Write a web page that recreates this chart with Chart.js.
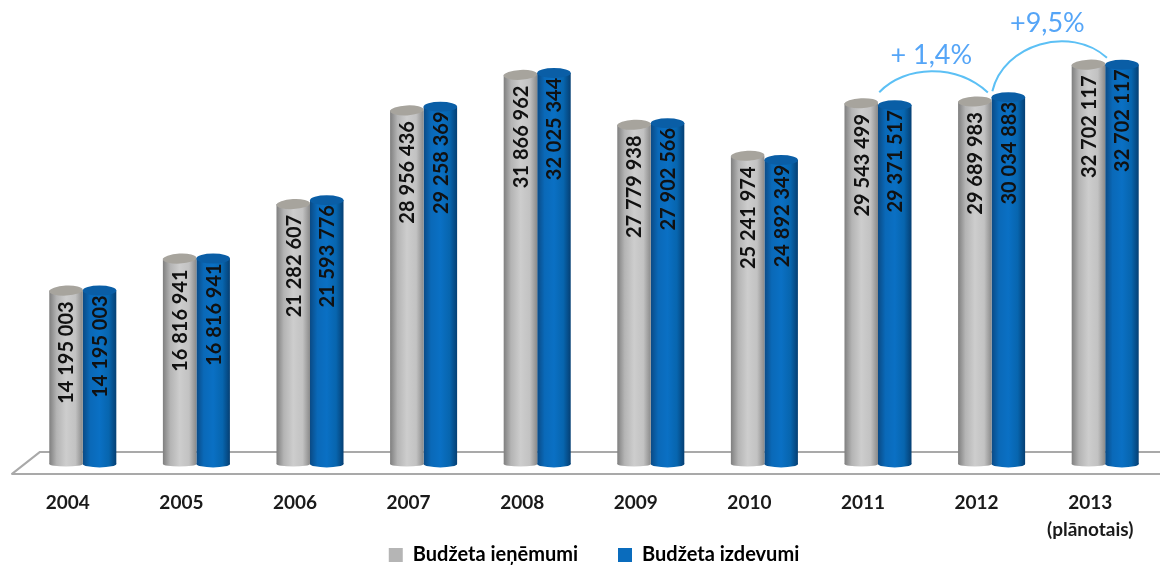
<!DOCTYPE html>
<html><head><meta charset="utf-8">
<style>html,body{margin:0;padding:0;background:#fff;overflow:hidden}#w{width:1160px;height:565px;overflow:hidden;position:relative}</style>
<script src="https://cdn.jsdelivr.net/npm/chart.js@4"></script>
</head><body><div id="w"><canvas id="c" width="1172" height="565" style="width:1172px;height:565px;display:block"></canvas></div>
<script>
const categories=['2004','2005','2006','2007','2008','2009','2010','2011','2012',['2013','(plānotais)']];
const revenue=[14195003,16816941,21282607,28956436,31866962,27779938,25241974,29543499,29689983,32702117];
const expenditure=[14195003,16816941,21593776,29258369,32025344,27902566,24892349,29371517,30034883,32702117];
const revenueName='Budžeta ieņēmumi';
const expenditureName='Budžeta izdevumi';
const notes=['+ 1,4%','+9,5%'];
const fmt=v=>String(v).replace(/\B(?=(\d{3})+$)/g,' ');
const FONT='Lato, sans-serif';
const grayStops=['#7f7f7f','#b4b4b4','#cdcdcd','#c2c2c2','#8a8a8a'];
const blueStops=['#0a4a85','#0a69b8','#0a70c4','#0765ae','#053f73'];
const PCT=0.59;
function grad(ctx,x0,x1,stops){
  const g=ctx.createLinearGradient(x0,0,x1,0);
  [0,.22,.5,.78,1].forEach((p,i)=>g.addColorStop(p,stops[i]));
  return g;
}
function fill(stops,side){
  return c=>{
    const sx=c.chart.scales.x;
    if(!sx||!sx.width||c.dataIndex===undefined) return stops[2];
    const cx=sx.getPixelForTick(c.dataIndex), w=PCT*sx.width/categories.length/2;
    return side<0?grad(c.chart.ctx,cx-w,cx,stops):grad(c.chart.ctx,cx,cx+w,stops);
  };
}
const cylinder={
  id:'cylinder',
  beforeLayout(ch){
    const l=ch.legend;
    if(!l._wrapped){const f=l.fit;l.fit=function(){f.call(this);this.height=0;};l._wrapped=true;}
  },
  afterLayout(ch){ch.legend.top=505;ch.legend.bottom=565;ch.legend.height=60;},
  beforeDatasetsDraw(ch){
    const {ctx,chartArea:a}=ch, b=ch.scales.y.getPixelForValue(0);
    ctx.save();ctx.strokeStyle='#a9a9a9';ctx.lineWidth=2;ctx.lineJoin='round';
    ctx.beginPath();
    ctx.moveTo(1172,b-12);ctx.lineTo(a.left+14,b-12);ctx.lineTo(a.left-14,b+10);ctx.lineTo(1172,b+10);
    ctx.stroke();ctx.restore();
    ctx.save();
    [0,1].forEach(d=>ch.getDatasetMeta(d).data.forEach(el=>{
      const st=d?blueStops:grayStops, w=el.width;
      ctx.fillStyle=grad(ctx,el.x-w/2,el.x+w/2,st);
      ctx.beginPath();ctx.ellipse(el.x,b,w/2,d?3.5:2.5,0,0,Math.PI*2);ctx.fill();
    }));
    ctx.restore();
  },
  afterDatasetsDraw(ch){
    const {ctx}=ch;
    ctx.save();
    [0,1].forEach(d=>{
      ch.getDatasetMeta(d).data.forEach((el,i)=>{
        const w=el.width;
        ctx.fillStyle=d?'#0a5ea6':'#a7a49d';
        ctx.beginPath();ctx.ellipse(el.x,el.y,w/2,5,d?0:-0.05,0,Math.PI*2);ctx.fill();
        const v=ch.data.datasets[d].data[i];
        ctx.save();
        ctx.translate(el.x+1,el.y+(d?56:62));
        ctx.rotate(-Math.PI/2);
        ctx.font='bold 20px '+FONT;ctx.fillStyle='#111';
        ctx.textAlign='center';ctx.textBaseline='middle';
        ctx.fillText(fmt(v),0,0);
        ctx.restore();
      });
    });
    const g=ch.getDatasetMeta(0).data, e=ch.getDatasetMeta(1).data;
    ctx.strokeStyle='#5cc0f5';ctx.lineWidth=2;ctx.fillStyle='#55a5f7';
    const s1=[g[7].x+18,g[7].y-11], t1=[g[8].x+13,g[8].y-9];
    ctx.beginPath();ctx.moveTo(s1[0],s1[1]);
    ctx.bezierCurveTo(s1[0]+26,s1[1]-27,t1[0]-32,t1[1]-29,t1[0],t1[1]);ctx.stroke();
    const s2=[e[8].x-16,e[8].y-6], t2=[e[9].x-15,e[9].y-7];
    ctx.beginPath();ctx.moveTo(s2[0],s2[1]);
    ctx.bezierCurveTo(s2[0]+11,s2[1]-47,t2[0]-37,t2[1]-33,t2[0],t2[1]);ctx.stroke();
    ctx.font='27px '+FONT;ctx.textAlign='center';ctx.textBaseline='middle';
    ctx.fillText(notes[0],g[7].x+70,g[7].y-48);
    ctx.fillText(notes[1],e[8].x+39,g[9].y-41);
    ctx.restore();
  }
};
new Chart(document.getElementById('c'),{
  type:'bar',
  data:{labels:categories,datasets:[
    {label:revenueName,data:revenue,backgroundColor:fill(grayStops,-1),borderWidth:0},
    {label:expenditureName,data:expenditure,backgroundColor:fill(blueStops,1),borderWidth:0}
  ]},
  options:{
    responsive:false,animation:false,
    layout:{padding:{left:26,right:10,top:0,bottom:4}},
    datasets:{bar:{categoryPercentage:PCT,barPercentage:1}},
    scales:{
      x:{grid:{display:false},border:{display:false},
        ticks:{color:'#1a1a1a',font:{family:FONT,weight:'bold',size:19,lineHeight:1.45},padding:17,labelOffset:-15,maxRotation:0,minRotation:0,autoSkip:false}},
      y:{display:false,min:0,max:38000000}
    },
    plugins:{
      legend:{position:'bottom',align:'center',
        labels:{boxWidth:14,boxHeight:14,padding:40,color:'#1a1a1a',font:{family:FONT,weight:'bold',size:20},
          generateLabels:c=>c.data.datasets.map((d,i)=>({text:d.label,fillStyle:i?'#0a6cbd':'#b5b5b5',strokeStyle:'transparent',lineWidth:0,datasetIndex:i}))}},
      tooltip:{enabled:false},
      title:{display:false}
    }
  },
  plugins:[cylinder]
});
</script></body></html>
